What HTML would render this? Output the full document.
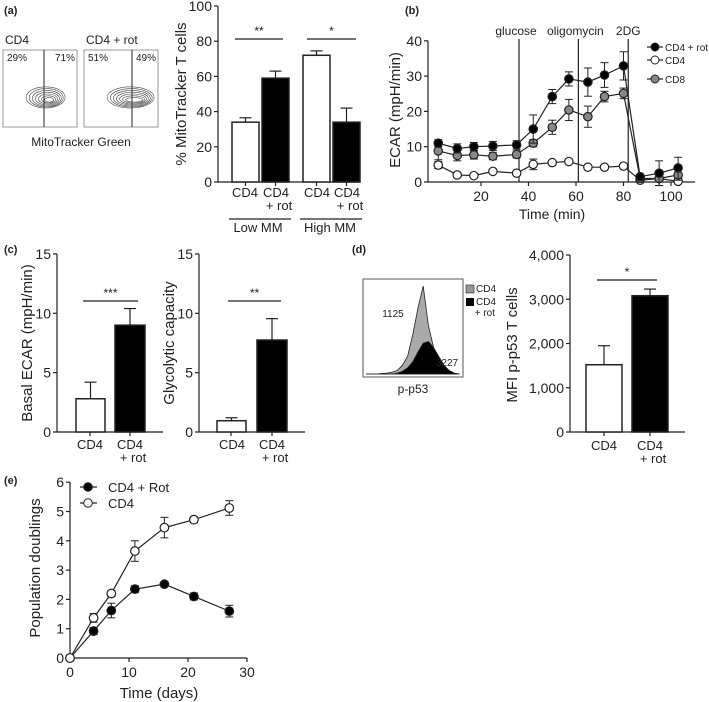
<!DOCTYPE html>
<html><head><meta charset="utf-8"><style>
html,body{margin:0;padding:0;background:#fff}
svg{display:block;font-family:"Liberation Sans",Arial,sans-serif}
</style></head><body>
<svg id="fig" width="709" height="702" viewBox="0 0 709 702" xmlns="http://www.w3.org/2000/svg"></svg>
<script>
// ---- Panel a bar data ----
const aCats = ["CD4","CD4 + rot","CD4","CD4 + rot"];
const aVals = [34, 59, 72, 34];
const aErrs = [2.5, 4, 2.5, 8];
const aTicks = [0,20,40,60,80,100];
// ---- Panel b ECAR time course ----
const bTimes = [2,10,17,25,35,42,50,57,65,72,80,87,95,103];
const bRot = [11,9.5,10,10.2,10.5,15,24.2,29.2,28.3,30.3,32.9,1.5,2.5,4];
const bRotErr = [1,1.3,1.2,1.3,1.2,4,2,2,4,3.5,4,0.5,3.5,3];
const bCD4 = [4.8,2,1.8,3,2.5,5,5.5,5.8,4.2,4.2,4.5,0.5,1,0.2];
const bCD4Err = [1,0.3,0.3,0.3,0.3,1.5,0.5,0.5,0.3,0.3,0.3,0.3,2,0.3];
const bCD8 = [8.8,7.5,7.7,7.3,7.8,11,15.5,20.4,18.5,24.2,25.1,1,1,2];
const bCD8Err = [2.5,1.5,1.2,1,1,1,2,3,3,1.5,1.5,0.5,2,1.5];
const bTicksX = [20,40,60,80,100];
const bTicksY = [0,10,20,30,40];
const bInject = [36,61,82];
const bInjectLbl = ["glucose","oligomycin","2DG"];
// ---- Panel c ----
const cCats = ["CD4","CD4 + rot"];
const cBasal = [2.8, 9.0];
const cBasalErr = [1.4, 1.4];
const cCap = [0.95, 7.75];
const cCapErr = [0.25, 1.8];
const cTicks = [0,5,10,15];
// ---- Panel d ----
const dVals = [1520, 3080];
const dErrs = [430, 150];
const dTicks = [0,1000,2000,3000,4000];
const dTickLbl = ["0","1,000","2,000","3,000","4,000"];
const dHistGrey = [0,0,0,0.005,0.01,0.02,0.04,0.1,0.2,0.45,0.75,1.0,0.55,0.3,0.12,0.04,0.01,0,0];
const dHistBlack = [0,0,0,0,0,0,0.01,0.03,0.07,0.14,0.25,0.35,0.37,0.3,0.2,0.1,0.04,0.01,0];
// ---- Panel e ----
const eDays = [0,4,7,11,16,21,27];
const eRot = [0,0.92,1.62,2.35,2.52,2.1,1.6];
const eRotErr = [0,0.12,0.25,0.12,0.05,0.12,0.2];
const eCD4 = [0,1.37,2.2,3.65,4.45,4.72,5.12];
const eCD4Err = [0,0.15,0.1,0.35,0.35,0.1,0.25];
const eTicksX = [0,10,20,30];
const eTicksY = [0,1,2,3,4,5,6];

const NS="http://www.w3.org/2000/svg";
const svg=document.getElementById('fig');
function el(tag, attrs, name, parent){
  const e=document.createElementNS(NS,tag);
  for(const k in attrs) e.setAttribute(k,attrs[k]);
  
  
  (parent||svg).appendChild(e);
  return e;
}
function txt(x,y,s,name,opt){
  opt=opt||{};
  const t=el('text',{x:x,y:y,'font-size':opt.size||13,'text-anchor':opt.anchor||'middle',fill:'#222','font-weight':opt.bold?'bold':'normal'},name);
  if(opt.rot) t.setAttribute('transform','rotate(-90 '+x+' '+y+')');
  t.textContent=s; return t;
}
function line(x1,y1,x2,y2,name,w){return el('line',{x1:x1,y1:y1,x2:x2,y2:y2,stroke:'#222','stroke-width':w||1.2},name);}
function yAxis(x,y0,y1,ticks,sy,labels,name){
  line(x,y0,x,y1,name+'-line');
  ticks.forEach((t,i)=>{const y=sy(t);line(x-4,y,x,y,name+'-tick');txt(x-6,y+5,labels?labels[i]:String(t),name+'-tick-label',{anchor:'end',size:14});});
}
function bar(x,w,v,e,sy,fill,name){
  const y0=sy(0),y=sy(v);
  line(x+w/2,sy(v+e),x+w/2,y,name+'-error');
  line(x+w/2-6,sy(v+e),x+w/2+6,sy(v+e),name+'-error-cap');
  el('rect',{x:x,y:y,width:w,height:y0-y,fill:fill,stroke:'#222','stroke-width':1.5},name);
}
function sig(x1,x2,y,s,name){line(x1,y,x2,y,name+'-line');txt((x1+x2)/2,y-4,s,name,{size:12});}
function catLabels(cx,y,two,name){txt(cx[0],y,"CD4",name);txt(cx[1],y,"CD4",name);txt(cx[1]+3,y+13,"+ rot",name);}

// panel letters
txt(4,14,"(a)","panel-a-label",{anchor:'start',size:11,bold:true});
txt(405,14,"(b)","panel-b-label",{anchor:'start',size:11,bold:true});
txt(4,253,"(c)","panel-c-label",{anchor:'start',size:11,bold:true});
txt(352,253,"(d)","panel-d-label",{anchor:'start',size:11,bold:true});
txt(4,484,"(e)","panel-e-label",{anchor:'start',size:11,bold:true});

// ---- a: flow contour plots ----
[[3,"CD4","29%","71%",44,0],[84,"CD4 + rot","51%","49%",132,1]].forEach(p=>{
  const bx=p[0];
  el('rect',{x:bx,y:50,width:74,height:77,fill:'none',stroke:'#999','stroke-width':1},'flow-plot-box');
  txt(bx+2,44,p[1],'flow-plot-title',{anchor:'start',size:12});
  txt(bx+4,61,p[2],'flow-gate-left-percent',{anchor:'start',size:10});
  txt(bx+72,61,p[3],'flow-gate-right-percent',{anchor:'end',size:10});
  line(p[4],50,p[4],127,'flow-gate-line',1);
  const cx=bx+42, cy=97;
  for(let k=1;k<=7;k++){
    el('ellipse',{cx:cx+(p[5]?4:0)+k*0.6,cy:cy+k*0.4,rx:22-k*2.5+(p[5]?4:0),ry:12-k*1.4,fill:'none',stroke:'#444','stroke-width':0.6},'flow-contour');
  }
});
txt(81,146,"MitoTracker Green","flow-x-axis-title",{size:12});

// ---- a: bar chart ----
const ayS=v=>182-v*1.76;
yAxis(218,6,182,aTicks,ayS,null,'a-y-axis');
line(218,182,360,182,'a-x-axis');
const aX=[232,262,303,333];
aVals.forEach((v,i)=>bar(aX[i],27,v,aErrs[i],ayS,i%2?'#000':'#fff','a-bar-'+i));
aX.forEach(x=>line(x+13.5,182,x+13.5,186,'a-x-tick'));
catLabels([245,276],197,true,'a-x-tick-label');
catLabels([317,347],197,true,'a-x-tick-label');
line(229,219,291,219,'low-mm-group-line');line(300,219,362,219,'high-mm-group-line');
txt(258,232,"Low MM","low-mm-label");txt(330,232,"High MM","high-mm-label");
sig(235,283,39,"**",'a-significance');sig(307,356,39,"*",'a-significance');
txt(186,94,"% MitoTracker T cells","a-y-axis-title",{rot:true,size:15});

// ---- b: ECAR line chart ----
const bxS=t=>433.5+t*2.375, byS=v=>182-v*3.53;
yAxis(428,41,182,bTicksY,byS,null,'b-y-axis');
line(428,182,695,182,'b-x-axis');
bTicksX.forEach(t=>{line(bxS(t),182,bxS(t),186,'b-x-tick');txt(bxS(t),201,String(t),'b-x-tick-label',{size:14});});
txt(552,219,"Time (min)","b-x-axis-title",{size:14});
txt(400,110,"ECAR (mpH/min)","b-y-axis-title",{rot:true,size:15});
bInject.forEach((t,i)=>{line(bxS(t),39,bxS(t),182,'b-injection-line');txt(bxS(t)-(i==2?0:3),35,bInjectLbl[i],'b-injection-label',{size:12});});
function series(xs,ys,es,sx,sy,fill,name,r){
  el('polyline',{points:xs.map((x,i)=>sx(x)+','+sy(ys[i])).join(' '),fill:'none',stroke:'#222','stroke-width':1.2},name+'-line');
  xs.forEach((x,i)=>{if(es[i]>0){const X=sx(x);line(X,sy(ys[i]-es[i]),X,sy(ys[i]+es[i]),name+'-error',1);line(X-4,sy(ys[i]+es[i]),X+4,sy(ys[i]+es[i]),name+'-error-cap',1);line(X-4,sy(ys[i]-es[i]),X+4,sy(ys[i]-es[i]),name+'-error-cap',1);}});
  xs.forEach((x,i)=>el('circle',{cx:sx(x),cy:sy(ys[i]),r:r,fill:fill,stroke:'#222','stroke-width':1.2},name+'-point'));
}
series(bTimes,bCD4,bCD4Err,bxS,byS,'#fff','b-cd4',4.2);
series(bTimes,bCD8,bCD8Err,bxS,byS,'#888','b-cd8',4.2);
series(bTimes,bRot,bRotErr,bxS,byS,'#000','b-cd4-rot',4.2);
[[47,'#000','CD4 + rot'],[60,'#fff','CD4'],[79,'#888','CD8']].forEach(l=>{
  line(647,l[0],663,l[0],'b-legend-line');el('circle',{cx:655,cy:l[0],r:4,fill:l[1],stroke:'#222'},'b-legend-marker');
  txt(665,l[0]+4,l[2],'b-legend-label',{anchor:'start',size:10});
});

// ---- c ----
const cyS=v=>432-v*11.87;
yAxis(57,254,432,cTicks,cyS,null,'c-basal-y-axis');line(57,432,163,432,'c-basal-x-axis');
bar(76,29,cBasal[0],cBasalErr[0],cyS,'#fff','c-basal-bar-cd4');bar(115,30,cBasal[1],cBasalErr[1],cyS,'#000','c-basal-bar-rot');
line(90,432,90,436,'c-x-tick');line(130,432,130,436,'c-x-tick');
catLabels([90,130],449,true,'c-basal-x-tick-label');
sig(83,138,301,"***",'c-basal-significance');
txt(32,343,"Basal ECAR (mpH/min)","c-basal-y-axis-title",{rot:true,size:15});
yAxis(199,254,432,cTicks,cyS,null,'c-capacity-y-axis');line(199,432,305,432,'c-capacity-x-axis');
bar(217,29,cCap[0],cCapErr[0],cyS,'#fff','c-capacity-bar-cd4');bar(257,30,cCap[1],cCapErr[1],cyS,'#000','c-capacity-bar-rot');
line(231,432,231,436,'c-x-tick');line(272,432,272,436,'c-x-tick');
catLabels([232,272],449,true,'c-capacity-x-tick-label');
sig(228,281,301,"**",'c-capacity-significance');
txt(174,343,"Glycolytic capacity","c-capacity-y-axis-title",{rot:true,size:15});

// ---- d: histogram ----
el('rect',{x:363,y:279,width:100,height:98,fill:'none',stroke:'#555','stroke-width':1},'d-histogram-box');
const hx=i=>366+i*5.2, hy=v=>374-v*88;
function hist(arr,fill,name){
  el('path',{d:'M'+hx(0)+','+hy(0)+' '+arr.map((v,i)=>'L'+hx(i)+','+hy(v)).join(' ')+' L'+hx(arr.length-1)+','+hy(0)+'Z',fill:fill,stroke:'#222','stroke-width':0.8},name);
}
hist(dHistGrey,'#aaa','d-histogram-cd4');hist(dHistBlack,'#000','d-histogram-cd4-rot');
txt(393,317,"1125","d-mfi-cd4",{size:10});txt(447,366,"3227","d-mfi-rot",{size:10});
txt(413,393,"p-p53","d-histogram-x-title",{size:12});
el('rect',{x:466,y:285,width:8,height:8,fill:'#999',stroke:'#222','stroke-width':0.6},'d-legend-swatch-cd4');
txt(476,292,"CD4","d-legend-label",{anchor:'start',size:10});
el('rect',{x:466,y:298,width:8,height:8,fill:'#000'},'d-legend-swatch-rot');
txt(476,305,"CD4","d-legend-label",{anchor:'start',size:10});txt(495,316,"+ rot","d-legend-label",{anchor:'end',size:10});
// d bar
const dyS=v=>432-v*0.04425;
yAxis(570,255,432,dTicks,dyS,dTickLbl,'d-y-axis');line(570,432,685,432,'d-x-axis');
bar(586,36,dVals[0],dErrs[0],dyS,'#fff','d-bar-cd4');bar(632,36,dVals[1],dErrs[1],dyS,'#000','d-bar-rot');
line(604,432,604,436,'d-x-tick');line(650,432,650,436,'d-x-tick');
catLabels([604,650],450,true,'d-x-tick-label');
sig(597,657,280,"*",'d-significance');
txt(517,345,"MFI p-p53 T cells","d-y-axis-title",{rot:true,size:15});

// ---- e ----
const exS=d=>70+d*5.9, eyS=v=>658-v*29.3;
yAxis(70,482,658,eTicksY,eyS,null,'e-y-axis');
line(70,658,247,658,'e-x-axis');
eTicksX.forEach(t=>{line(exS(t),658,exS(t),662,'e-x-tick');txt(exS(t),677,String(t),'e-x-tick-label',{size:14});});
txt(159,698,"Time (days)","e-x-axis-title",{size:15});
txt(40,568,"Population doublings","e-y-axis-title",{rot:true,size:15});
series(eDays,eRot,eRotErr,exS,eyS,'#000','e-cd4-rot',4.3);
series(eDays,eCD4,eCD4Err,exS,eyS,'#fff','e-cd4',4.3);
[[487,'#000','CD4 + Rot'],[503,'#fff','CD4']].forEach(l=>{
  line(80,l[0],97,l[0],'e-legend-line');el('circle',{cx:88,cy:l[0],r:4.3,fill:l[1],stroke:'#222'},'e-legend-marker');
  txt(108,l[0]+5,l[2],'e-legend-label',{anchor:'start',size:13});
});
</script>
</body></html>
